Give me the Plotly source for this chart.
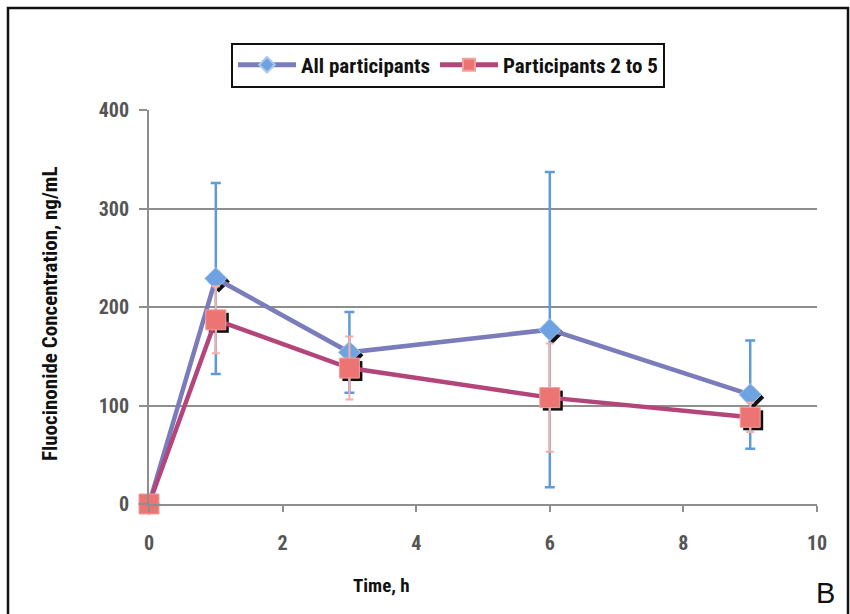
import plotly.graph_objects as go

time_h = [0, 1, 3, 6, 9]
all_mean = [0, 229, 154, 177, 111]
all_err = [0, 97, 41, 160, 55]
p25_mean = [0, 187, 138, 108, 88]
p25_err = [0, 34, 32, 55, 15]

FONT = "Liberation Sans Narrow, Roboto Condensed, Arial Narrow, sans-serif"

pw, ph = 668, 394
dx = 3 * 10 / pw
dy = 3 * 400 / ph

fig = go.Figure()

# base subplot holder (visible axes/grid), no marks
fig.add_trace(go.Scatter(x=[], y=[], mode="markers", showlegend=False, hoverinfo="skip"))

# marker shadows (hidden axes x2/y2, shifted a few px down-right)
fig.add_trace(go.Scatter(x=time_h, y=all_mean, mode="markers", xaxis="x2", yaxis="y2",
                         marker=dict(symbol="diamond", size=17, color="#111111"),
                         showlegend=False, hoverinfo="skip", cliponaxis=False))
fig.add_trace(go.Scatter(x=time_h, y=p25_mean, mode="markers", xaxis="x2", yaxis="y2",
                         marker=dict(symbol="square", size=20, color="#111111"),
                         showlegend=False, hoverinfo="skip", cliponaxis=False))

# main series (hidden axes x3/y3 with the same scale as the visible axes)
fig.add_trace(go.Scatter(
    x=time_h, y=all_mean, mode="lines+markers", name="All participants",
    xaxis="x3", yaxis="y3",
    line=dict(color="#7A7CBB", width=4.5),
    marker=dict(symbol="diamond", size=17, color="#6FA2E0", line=dict(color="#A9C8F0", width=1)),
    error_y=dict(type="data", array=all_err, color="#5F9BD8", thickness=2.5, width=5),
    cliponaxis=False))
fig.add_trace(go.Scatter(
    x=time_h, y=p25_mean, mode="lines+markers", name="Participants 2 to 5",
    xaxis="x3", yaxis="y3",
    line=dict(color="#B4457B", width=4.5),
    marker=dict(symbol="square", size=20, color="#EC7472", line=dict(color="#F3A09C", width=1)),
    error_y=dict(type="data", array=p25_err, color="#F2B0A6", thickness=2, width=4),
    cliponaxis=False))

fig.update_layout(
    width=850, height=614,
    margin=dict(l=149, r=33, t=110, b=110),
    paper_bgcolor="white", plot_bgcolor="white",
    font=dict(family=FONT, color="#111111"),
    xaxis=dict(range=[0, 10], tickvals=[0, 2, 4, 6, 8, 10], showgrid=False, zeroline=False,
               showline=True, linecolor="#8E8E8E", linewidth=2,
               ticks="outside", ticklen=6, tickcolor="#8E8E8E", tickwidth=2,
               ticklabelstandoff=14,
               tickfont=dict(size=20, color="#555555", family=FONT, weight="bold")),
    yaxis=dict(range=[0, 400], tickvals=[0, 100, 200, 300, 400], showgrid=True,
               gridcolor="#8E8E8E", gridwidth=1.5, zeroline=False,
               showline=True, linecolor="#8E8E8E", linewidth=2,
               ticks="outside", ticklen=8, tickcolor="#8E8E8E", tickwidth=1.5,
               ticklabelstandoff=6,
               tickfont=dict(size=20, color="#555555", family=FONT, weight="bold")),
    xaxis2=dict(range=[-dx, 10 - dx], overlaying="x", visible=False),
    yaxis2=dict(range=[dy, 400 + dy], overlaying="y", visible=False),
    xaxis3=dict(range=[0, 10], overlaying="x", visible=False),
    yaxis3=dict(range=[0, 400], overlaying="y", visible=False),
    legend=dict(orientation="h", x=0.4476, y=1.114, xanchor="center", yanchor="middle",
                bordercolor="#111111", borderwidth=2, bgcolor="white",
                font=dict(size=21, family=FONT, weight="bold", color="#111111"),
                itemwidth=58, itemsizing="constant"),
    showlegend=True,
)

fig.add_annotation(text="Fluocinonide Concentration, ng/mL", xref="paper", yref="paper",
                   x=(50 - 149) / pw, y=(504 - 314) / ph, textangle=-90, showarrow=False,
                   xanchor="center", yanchor="middle",
                   font=dict(size=21, family=FONT, weight="bold", color="#111111"))
fig.add_annotation(text="Time, h", xref="paper", yref="paper",
                   x=(381 - 149) / pw, y=(504 - 585) / ph, showarrow=False,
                   xanchor="center", yanchor="middle",
                   font=dict(size=19, family=FONT, weight="bold", color="#111111"))
fig.add_annotation(text="B", xref="paper", yref="paper",
                   x=(825 - 149) / pw, y=(504 - 593) / ph, showarrow=False,
                   xanchor="center", yanchor="middle",
                   font=dict(size=29, family="Liberation Sans, Arial, sans-serif", color="#111111"))

fig.add_shape(type="rect", xref="paper", yref="paper",
              x0=(8 - 149) / pw, x1=(848 - 149) / pw, y0=(504 - 620) / ph, y1=(504 - 8) / ph,
              line=dict(color="#111111", width=2.5), layer="below")

fig.write_html("out.html")
